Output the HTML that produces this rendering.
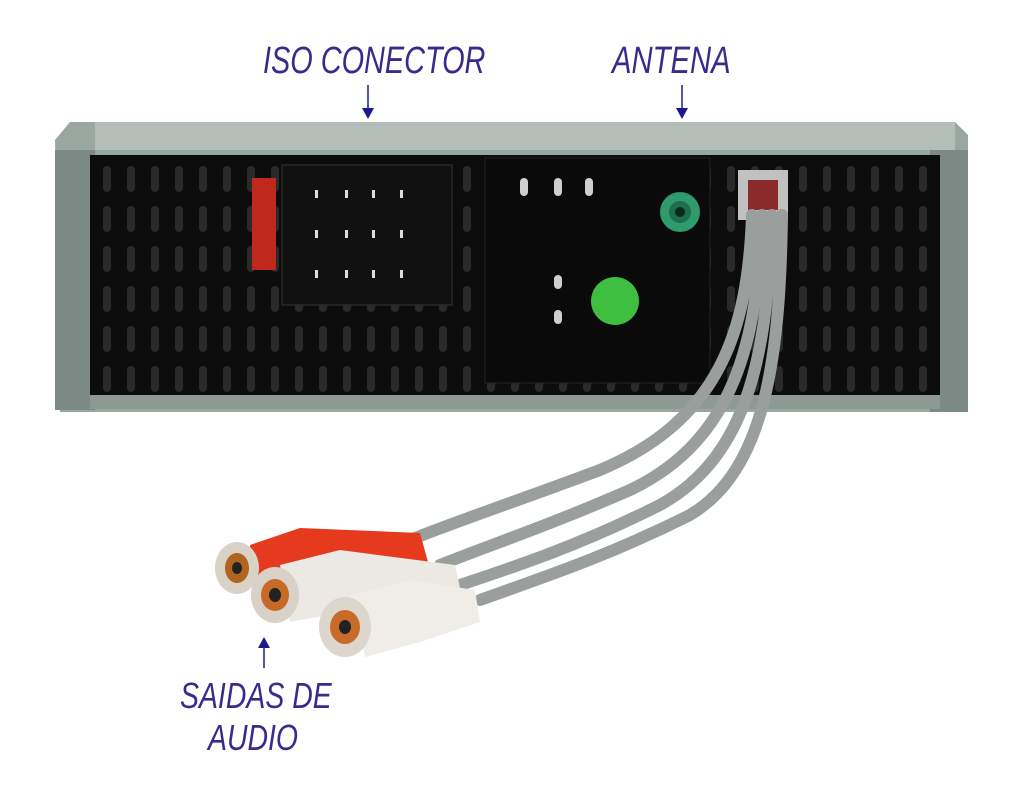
<!DOCTYPE html>
<html><head><style>
html,body{margin:0;padding:0;background:#fff;}
body{width:1024px;height:797px;overflow:hidden;}
text{font-family:"Liberation Sans",sans-serif;fill:#3b2a8c;}
</style></head><body>
<svg width="1024" height="797" viewBox="0 0 1024 797" xmlns="http://www.w3.org/2000/svg">
<defs>
<pattern id="slots" x="95" y="160" width="24" height="40" patternUnits="userSpaceOnUse">
<rect width="24" height="40" fill="#0c0c0c"/>
<rect x="8" y="6" width="8" height="26" rx="4" fill="#2a2a2a"/>
</pattern>
</defs>
<text x="263" y="73" font-size="38" transform="translate(263,0) scale(0.76,1) translate(-263,0)" font-style="italic">ISO CONECTOR</text>
<text x="612" y="73" font-size="38" transform="translate(612,0) scale(0.77,1) translate(-612,0)" font-style="italic">ANTENA</text>
<text x="180" y="708" font-size="36" transform="translate(180,0) scale(0.79,1) translate(-180,0)" font-style="italic">SAIDAS DE</text>
<text x="208" y="750" font-size="36" transform="translate(208,0) scale(0.79,1) translate(-208,0)" font-style="italic">AUDIO</text>
<g stroke="#1a1a8c" stroke-width="1.5" fill="#1a1a8c">
<line x1="368" y1="85" x2="368" y2="110"/><polygon points="362,108 374,108 368,119" stroke="none"/>
<line x1="682" y1="85" x2="682" y2="110"/><polygon points="676,108 688,108 682,119" stroke="none"/>
<line x1="264" y1="668" x2="264" y2="645"/><polygon points="258,648 270,648 264,637" stroke="none"/>
</g>
<path d="M70 122 L955 122 L968 135 L968 412 L60 412 L55 140 Z" fill="#9aa6a0"/>
<rect x="95" y="122" width="860" height="28" fill="#b3beb8"/>
<rect x="55" y="150" width="40" height="260" fill="#7d8984"/>
<rect x="930" y="150" width="38" height="262" fill="#7d8984"/>
<rect x="90" y="155" width="850" height="240" fill="url(#slots)"/>
<rect x="90" y="395" width="850" height="14" fill="#8e9994"/>
<rect x="282" y="165" width="170" height="140" fill="#111" stroke="#333"/>
<g fill="#ddd"><rect x="315" y="190" width="3" height="8"/><rect x="345" y="190" width="3" height="8"/><rect x="372" y="190" width="3" height="8"/><rect x="400" y="190" width="3" height="8"/>
<rect x="315" y="230" width="3" height="8"/><rect x="345" y="230" width="3" height="8"/><rect x="372" y="230" width="3" height="8"/><rect x="400" y="230" width="3" height="8"/>
<rect x="315" y="270" width="3" height="8"/><rect x="345" y="270" width="3" height="8"/><rect x="372" y="270" width="3" height="8"/><rect x="400" y="270" width="3" height="8"/></g>
<rect x="252" y="178" width="24" height="92" fill="#c0281e"/>
<rect x="485" y="158" width="225" height="225" fill="#0a0a0a" stroke="#222"/>
<g fill="#cfcfcf"><rect x="554" y="178" width="8" height="18" rx="4"/><rect x="585" y="178" width="8" height="18" rx="4"/><rect x="520" y="178" width="8" height="18" rx="4"/>
<rect x="554" y="275" width="8" height="14" rx="4"/><rect x="554" y="310" width="8" height="14" rx="4"/></g>
<circle cx="680" cy="212" r="20" fill="#2f9a6c"/><circle cx="680" cy="212" r="11" fill="#1d6e4c"/><circle cx="680" cy="212" r="5" fill="#0a2a1c"/>
<circle cx="615" cy="301" r="24" fill="#3fbf3f"/>
<rect x="738" y="170" width="50" height="50" fill="#bfc2c0"/><rect x="748" y="180" width="30" height="30" fill="#8a2a2a"/>
<g fill="none" stroke="#9a9e9d" stroke-width="12" stroke-linecap="round">
<path d="M752 215 C748 330 720 420 600 470 C520 500 460 520 410 540"/>
<path d="M762 215 C758 340 735 440 630 490 C550 525 490 545 440 565"/>
<path d="M772 215 C768 350 750 455 660 505 C580 545 520 565 460 585"/>
<path d="M782 215 C780 360 765 470 690 515 C610 555 550 575 480 600"/>
</g>
<path d="M250 545 L300 528 L420 533 L428 562 L300 578 L255 588 Z" fill="#e63a1e"/>
<ellipse cx="237" cy="568" rx="22" ry="26" fill="#d9d2c6"/><ellipse cx="237" cy="568" rx="12" ry="15" fill="#b0651e"/><ellipse cx="237" cy="568" rx="5" ry="6" fill="#222"/>
<path d="M280 565 L340 550 L455 565 L462 597 L345 612 L290 622 Z" fill="#ece9e4"/>
<ellipse cx="275" cy="595" rx="24" ry="28" fill="#d7d1c8"/><ellipse cx="275" cy="595" rx="14" ry="16" fill="#c76a28"/><ellipse cx="275" cy="595" rx="6" ry="7" fill="#222"/>
<path d="M350 595 L410 580 L475 590 L480 622 L420 642 L365 657 Z" fill="#f0ede8"/>
<ellipse cx="345" cy="627" rx="26" ry="30" fill="#dcd6cc"/><ellipse cx="345" cy="627" rx="15" ry="17" fill="#c86a2a"/><ellipse cx="345" cy="627" rx="6" ry="7" fill="#222"/>
</svg>
</body></html>
